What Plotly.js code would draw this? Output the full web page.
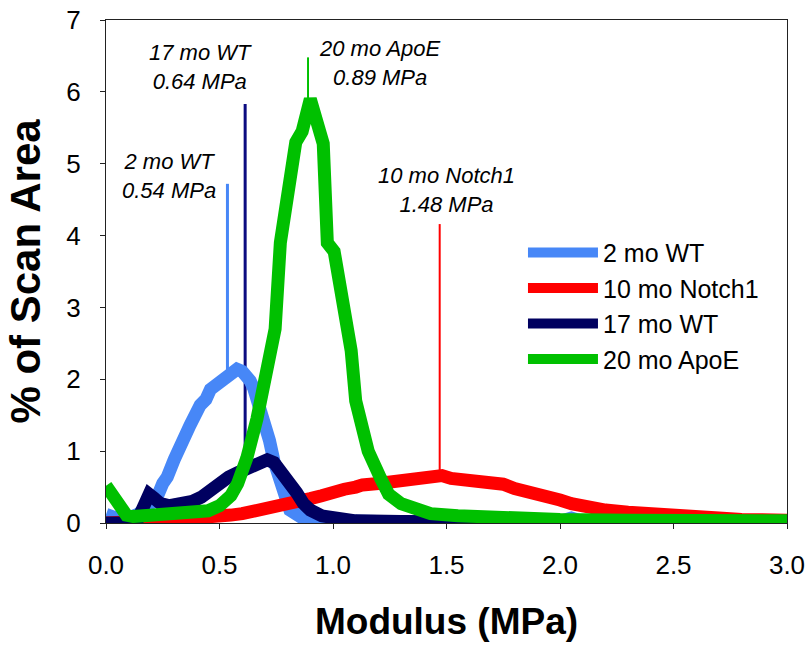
<!DOCTYPE html>
<html>
<head>
<meta charset="utf-8">
<script src="https://cdn.plot.ly/plotly-3.0.1.min.js"></script>
<style>html,body{margin:0;padding:0;background:#fff;}#chart{width:810px;height:646px;}</style>
</head>
<body>
<div id="chart"></div>
<script>
// ---- Data ----
const seriesNames = ["2 mo WT", "10 mo Notch1", "17 mo WT", "20 mo ApoE"];

const wt2X = [0.00,0.03,0.06,0.10,0.14,0.18,0.225,0.25,0.27,0.30,0.326,0.37,0.415,0.44,0.46,0.503,0.53,0.555,0.577,0.60,0.62,0.635,0.65,0.68,0.71,0.72,0.74,0.77,0.81,0.87,0.95,1.2,1.6,2.0,2.05,2.1,2.5,3.0];
const wt2Y = [0.12,0.09,0.05,0.07,0.12,0.22,0.36,0.55,0.64,0.88,1.10,1.36,1.64,1.72,1.86,1.96,2.04,2.08,2.14,2.11,2.05,1.98,1.88,1.60,1.28,1.15,0.86,0.50,0.18,0.06,0.03,0.02,0.02,0.02,0.07,0.02,0.01,0.01];

const notchX = [0.00,0.05,0.10,0.20,0.30,0.40,0.46,0.50,0.55,0.60,0.635,0.70,0.75,0.80,0.85,0.90,0.95,0.99,1.05,1.10,1.13,1.20,1.24,1.30,1.35,1.40,1.44,1.48,1.52,1.58,1.65,1.70,1.75,1.80,1.85,1.90,1.95,2.00,2.05,2.10,2.20,2.30,2.40,2.50,2.60,2.70,2.80,2.90,3.00];
const notchY = [0.00,0.00,0.01,0.03,0.05,0.06,0.07,0.09,0.11,0.13,0.15,0.18,0.21,0.24,0.30,0.34,0.38,0.43,0.47,0.50,0.53,0.55,0.56,0.57,0.59,0.62,0.65,0.66,0.62,0.60,0.60,0.58,0.54,0.48,0.45,0.41,0.37,0.32,0.27,0.23,0.18,0.15,0.12,0.10,0.08,0.07,0.05,0.04,0.04];

const wt17X = [0.00,0.05,0.10,0.14,0.17,0.19,0.21,0.24,0.28,0.34,0.38,0.42,0.46,0.50,0.54,0.58,0.62,0.66,0.69,0.71,0.74,0.767,0.80,0.84,0.87,0.90,0.95,0.99,1.10,1.30,1.60,2.00,3.00];
const wt17Y = [0.00,0.00,0.00,0.05,0.28,0.40,0.35,0.27,0.24,0.26,0.30,0.36,0.46,0.56,0.64,0.70,0.76,0.82,0.88,0.88,0.84,0.74,0.62,0.42,0.27,0.18,0.10,0.07,0.03,0.02,0.01,0.00,0.00];

const apoeX = [0.00,0.03,0.06,0.09,0.12,0.16,0.20,0.25,0.30,0.35,0.40,0.45,0.50,0.55,0.58,0.60,0.62,0.665,0.71,0.745,0.768,0.80,0.836,0.864,0.90,0.957,0.975,1.005,1.063,1.08,1.10,1.155,1.21,1.245,1.30,1.35,1.43,1.55,1.65,1.80,2.00,2.30,2.60,3.00];
const apoeY = [0.52,0.36,0.20,0.11,0.09,0.10,0.10,0.09,0.10,0.11,0.13,0.17,0.24,0.38,0.55,0.70,0.90,1.45,2.10,2.70,3.90,4.55,5.30,5.45,5.90,5.28,3.90,3.78,2.70,2.40,1.70,1.00,0.62,0.40,0.27,0.20,0.13,0.10,0.08,0.06,0.05,0.04,0.03,0.03];

// median markers: x position, bottom (curve) and top of each vertical line
const markX = [0.535, 0.613, 0.89, 1.47];
const markBottom = [2.08, 0.76, 5.85, 0.65];
const markTop = [4.72, 5.83, 6.48, 4.16];
const markLabels = ["2 mo WT<br>0.54 MPa", "17 mo WT<br>0.64 MPa", "20 mo ApoE<br>0.89 MPa", "10 mo Notch1<br>1.48 MPa"];

const colors = ["#4787F7", "#FF0000", "#000060", "#00C000"];
const markColors = ["#4787F7", "#0B0B80", "#00C000", "#FF0000"];

const FONT = "Liberation Sans, Arial, Helvetica, sans-serif";

const xs = [wt2X, notchX, wt17X, apoeX];
const ys = [wt2Y, notchY, wt17Y, apoeY];

const traces = seriesNames.map((n, i) => ({
  type: "scatter",
  mode: "lines",
  name: n,
  x: xs[i],
  y: ys[i],
  line: {color: colors[i], width: 13}
}));

const shapes = markX.map((x, i) => ({
  type: "line", xref: "x", yref: "y", layer: "below",
  x0: x, x1: x, y0: markBottom[i], y1: markTop[i],
  line: {color: markColors[i], width: i < 2 ? 3 : 2}
}));

const annPos = [[0.278, 4.83], [0.415, 6.35], [1.205, 6.40], [1.50, 4.63]];
const annotations = markLabels.map((t, i) => ({
  xref: "x", yref: "y", x: annPos[i][0], y: annPos[i][1],
  text: t, showarrow: false, align: "center",
  font: {family: FONT, size: 22, color: "#000", style: "italic"}
}));

const layout = {
  width: 810, height: 646,
  margin: {l: 106, r: 23, t: 20, b: 123},
  paper_bgcolor: "#fff", plot_bgcolor: "#fff",
  font: {family: FONT, color: "#000"},
  showlegend: true,
  legend: {
    x: 0.6123, xanchor: "left", y: 0.583, yanchor: "top",
    font: {family: FONT, size: 25, color: "#000"},
    bgcolor: "rgba(0,0,0,0)", itemwidth: 70
  },
  xaxis: {
    range: [0, 3], dtick: 0.5, tick0: 0, tickformat: ".1f",
    showgrid: false, zeroline: false,
    showline: true, mirror: true, linecolor: "#222", linewidth: 1,
    ticks: "outside", ticklen: 5, tickcolor: "#222",
    tickfont: {family: FONT, size: 26},
    ticklabelstandoff: 14,
    title: {text: "Modulus (MPa)", font: {family: FONT, size: 37, weight: "bold"}, standoff: 28}
  },
  yaxis: {
    range: [0, 7], dtick: 1, tick0: 0,
    showgrid: false, zeroline: false,
    showline: true, mirror: true, linecolor: "#222", linewidth: 1,
    ticks: "outside", ticklen: 5, tickcolor: "#222",
    tickfont: {family: FONT, size: 26},
    ticklabelstandoff: 14,
    title: {text: "% of Scan Area", font: {family: FONT, size: 42, weight: "bold"}, standoff: 12}
  },
  shapes: shapes,
  annotations: annotations
};

Plotly.newPlot("chart", traces, layout, {displayModeBar: false, staticPlot: true});
</script>
</body>
</html>
